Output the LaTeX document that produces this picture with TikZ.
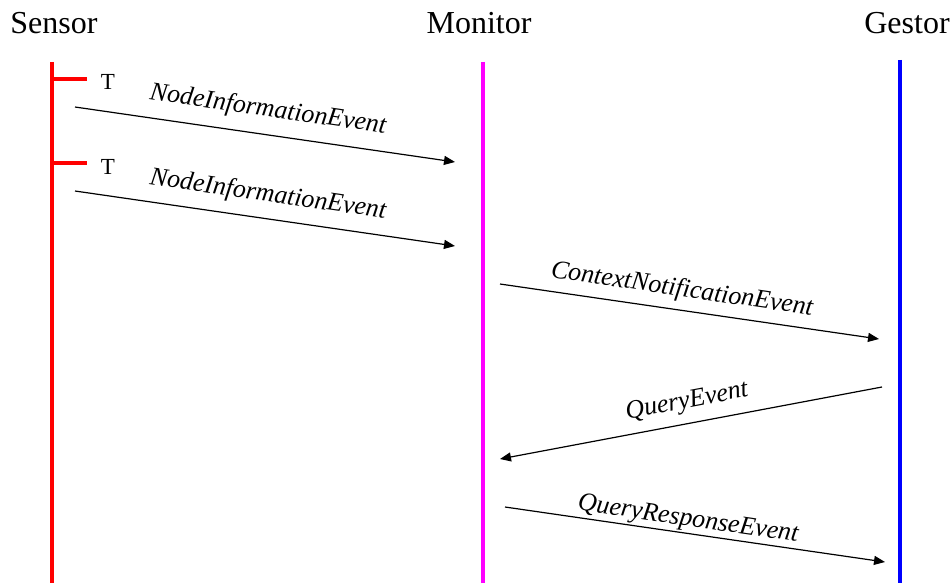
\documentclass[tikz,border=0pt]{standalone}
\usepackage{fontspec}
\setmainfont{Liberation Serif}
\usetikzlibrary{arrows.meta}
\definecolor{mag}{RGB}{255,0,255}
\definecolor{lred}{RGB}{255,0,0}
\definecolor{lblue}{RGB}{0,0,255}
\begin{document}
\begin{tikzpicture}[x=1pt,y=-1pt,
  head/.style={font=\fontsize{32}{34}\selectfont, inner sep=0pt, anchor=base},
  life/.style={line width=4pt},
  msg/.style={line width=1.2pt, -{Triangle[length=11pt,width=9pt]}},
  lbl/.style={font=\fontsize{26}{28}\selectfont\itshape, inner sep=0pt},
  tlbl/.style={font=\fontsize{23}{25}\selectfont, inner sep=0pt, anchor=base}]
\useasboundingbox (0,0) rectangle (952,583);
% headings
\node[head] (hs) at (54,34) {Sensor};
\node[head] (hm) at (479,34) {Monitor};
\node[head] (hg) at (907,34) {Gestor};
% lifelines
\coordinate (s1) at (52,62); \coordinate (s2) at (52,583);
\coordinate (m1) at (483,62); \coordinate (m2) at (483,583);
\coordinate (g1) at (900,60); \coordinate (g2) at (900,583);
\draw[life, lred] (s1) -- (s2);
\draw[life, mag] (m1) -- (m2);
\draw[life, lblue] (g1) -- (g2);
% timers
\coordinate (t1a) at (52,79); \coordinate (t1b) at (87,79);
\coordinate (t2a) at (52,163); \coordinate (t2b) at (87,163);
\draw[lred, line width=4pt] (t1a) -- (t1b);
\draw[lred, line width=4pt] (t2a) -- (t2b);
\node[tlbl] (T1) at (108,90) {T};
\node[tlbl] (T2) at (108,174) {T};
% messages
\coordinate (a1) at (75,107); \coordinate (b1) at (455,162);
\coordinate (a2) at (75,191); \coordinate (b2) at (455,246);
\coordinate (a3) at (500,284); \coordinate (b3) at (879,339);
\coordinate (a4) at (882,387); \coordinate (b4) at (500,459);
\coordinate (a5) at (505,507); \coordinate (b5) at (885,562);
\draw[msg] (a1) -- (b1);
\draw[msg] (a2) -- (b2);
\draw[msg] (a3) -- (b3);
\draw[msg] (a4) -- (b4);
\draw[msg] (a5) -- (b5);
\node[lbl, rotate=-8.3] (l1) at (268,110) {NodeInformationEvent};
\node[lbl, rotate=-8.3] (l2) at (268,195) {NodeInformationEvent};
\node[lbl, rotate=-8.3] (l3) at (682,290) {ContextNotificationEvent};
\node[lbl, rotate=10.7] (l4) at (687,402) {QueryEvent};
\node[lbl, rotate=-8.3] (l5) at (688,520) {QueryResponseEvent};
\end{tikzpicture}
\end{document}
